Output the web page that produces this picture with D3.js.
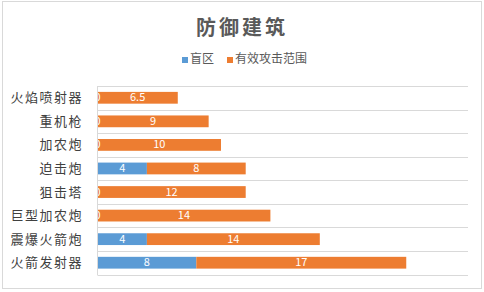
<!DOCTYPE html>
<html>
<head>
<meta charset="utf-8">
<script src="https://cdn.jsdelivr.net/npm/d3@7"></script>
<style>
  body { margin: 0; background: #fff; }
  text { font-family: "Noto Sans CJK SC", "Noto Sans", sans-serif; }
</style>
</head>
<body>
<svg id="chart" width="484" height="292"></svg>
<script>
var categories = ["火焰喷射器", "重机枪", "加农炮", "迫击炮", "狙击塔", "巨型加农炮", "震爆火箭炮", "火箭发射器"]
var blindZone = [0, 0, 0, 4, 0, 0, 4, 8]
var effectiveRange = [6.5, 9, 10, 8, 12, 14, 14, 17]
var seriesNames = ["盲区", "有效攻击范围"]
var colors = ["#5b9bd5", "#ed7d31"]

var svg = d3.select("#chart")

// chart border
svg.append("rect").attr("x", 2.5).attr("y", 1.5).attr("width", 479).attr("height", 287)
  .style("fill", "#fff").style("stroke", "#d9d9d9")

// title
svg.append("text").attr("x", 242).attr("y", 35).attr("text-anchor", "middle")
  .text("防御建筑").style("font-size", "20px").style("font-weight", "bold")
  .style("letter-spacing", "3px").style("fill", "#595959")

// legend
var legendX = [182, 227]
seriesNames.forEach(function(name, i) {
  svg.append("rect").attr("x", legendX[i]).attr("y", 57).attr("width", 6).attr("height", 6).style("fill", colors[i])
  svg.append("text").attr("x", legendX[i] + 8).attr("y", 60).attr("dominant-baseline", "middle")
    .text(name).style("font-size", "12px").style("fill", "#595959")
})

var x = d3.scaleLinear().domain([0, 30]).range([97.5, 468])
var y = d3.scaleBand().domain(categories).range([86, 274.5]).paddingInner(0.5).paddingOuter(0.25)
var step = y.step()

// gridlines between categories
var gridY = d3.range(categories.length + 1).map(function(i) { return 86 + i * step })
svg.selectAll(".grid").data(gridY).enter().append("line")
  .attr("x1", x(0)).attr("x2", x(30)).attr("y1", function(d) { return Math.round(d) + 0.5 }).attr("y2", function(d) { return Math.round(d) + 0.5 })
  .style("stroke", "#d9d9d9")

svg.append("clipPath").attr("id", "plot").append("rect")
  .attr("x", x(0)).attr("y", 80).attr("width", x(30) - x(0)).attr("height", 200)

var plot = svg.append("g").attr("clip-path", "url(#plot)")

var rows = categories.map(function(c, i) { return { cat: c, a: blindZone[i], b: effectiveRange[i] } })

// blind zone bars
plot.selectAll(".blind").data(rows).enter().append("rect")
  .attr("x", x(0)).attr("y", function(d) { return y(d.cat) })
  .attr("width", function(d) { return x(d.a) - x(0) }).attr("height", y.bandwidth())
  .style("fill", colors[0])

// effective range bars
plot.selectAll(".eff").data(rows).enter().append("rect")
  .attr("x", function(d) { return x(d.a) }).attr("y", function(d) { return y(d.cat) })
  .attr("width", function(d) { return x(d.a + d.b) - x(d.a) }).attr("height", y.bandwidth())
  .style("fill", colors[1])

// value labels
plot.selectAll(".lblA").data(rows).enter().append("text")
  .attr("x", function(d) { return (x(0) + x(d.a)) / 2 }).attr("y", function(d) { return y(d.cat) + y.bandwidth() / 2 + 0.5 })
  .attr("text-anchor", "middle").attr("dominant-baseline", "middle")
  .text(function(d) { return d.a }).style("font-size", "11px").style("fill", "#fff")

plot.selectAll(".lblB").data(rows).enter().append("text")
  .attr("x", function(d) { return (x(d.a) + x(d.a + d.b)) / 2 }).attr("y", function(d) { return y(d.cat) + y.bandwidth() / 2 + 0.5 })
  .attr("text-anchor", "middle").attr("dominant-baseline", "middle")
  .text(function(d) { return d.b }).style("font-size", "11px").style("fill", "#fff")

// vertical axis
svg.append("line").attr("x1", x(0)).attr("x2", x(0)).attr("y1", 86).attr("y2", 275)
  .style("stroke", "#d9d9d9")

svg.selectAll(".cat").data(categories).enter().append("text")
  .attr("x", 83).attr("y", function(d) { return y(d) + y.bandwidth() / 2 + 1 })
  .attr("text-anchor", "end").attr("dominant-baseline", "middle")
  .text(function(d) { return d }).style("font-size", "13px").style("letter-spacing", "1.5px").style("fill", "#404040")
</script>
</body>
</html>
